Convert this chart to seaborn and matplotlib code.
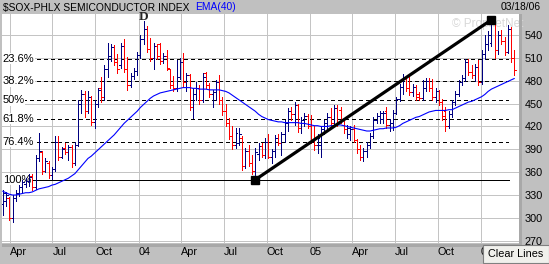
import matplotlib
matplotlib.use("Agg")
import matplotlib.pyplot as plt
import matplotlib.dates as mdates
import matplotlib.patches as mpatches
import matplotlib.transforms as mtransforms
import numpy as np
import pandas as pd
import seaborn as sns

# ---------------- data (weekly OHLC, $SOX) ----------------
opens = [318, 322, 326, 300, 326, 333, 340, 344, 349, 355, 340, 378, 386, 362, 372, 356, 364, 400, 380, 392,
         386, 393, 372, 396, 450, 462, 440, 458, 426, 450, 470, 458, 495, 512, 524, 505, 500, 525, 496, 475,
         486, 493, 514, 535, 548, 522, 510, 525, 528, 506, 512, 495, 475, 470, 485, 505, 478, 487, 446, 462,
         470, 455, 490, 475, 462, 465, 478, 455, 440, 425, 408, 395, 398, 405, 368, 388, 372, 362, 384, 394,
         383, 400, 380, 388, 405, 398, 410, 424, 440, 436, 448, 418, 428, 434, 420, 402, 395, 395, 416, 424,
         432, 424, 444, 442, 428, 416, 410, 416, 402, 390, 380, 388, 396, 408, 428, 434, 430, 440, 422, 425,
         438, 456, 472, 484, 470, 465, 472, 462, 457, 470, 480, 470, 458, 466, 452, 440, 420, 436, 452, 462,
         478, 484, 505, 492, 488, 498, 478, 515, 528, 530, 555, 520, 540, 532, 518, 548, 510]
highs = [337, 334, 327, 330, 337, 343, 350, 352, 357, 358, 383, 411, 388, 378, 374, 367, 407, 407, 393, 398,
         396, 396, 399, 455, 468, 466, 466, 460, 455, 470, 485, 500, 530, 528, 527, 515, 530, 535, 511, 490,
         497, 518, 540, 558, 552, 536, 530, 528, 530, 516, 520, 496, 486, 507, 510, 517, 490, 489, 470, 478,
         475, 490, 492, 477, 468, 481, 488, 459, 450, 431, 420, 418, 418, 408, 392, 396, 383, 392, 398, 398,
         405, 410, 391, 409, 410, 413, 428, 444, 446, 452, 450, 432, 437, 436, 435, 420, 410, 420, 428, 437,
         444, 448, 448, 446, 431, 422, 420, 422, 404, 396, 392, 400, 412, 432, 437, 440, 440, 446, 430, 441,
         459, 476, 489, 486, 487, 476, 475, 465, 481, 483, 484, 482, 470, 468, 456, 446, 440, 455, 466, 481,
         488, 509, 508, 500, 502, 507, 520, 540, 545, 562, 557, 545, 546, 537, 553, 550, 520]
lows = [304, 315, 297, 295, 322, 329, 334, 340, 342, 336, 338, 375, 358, 360, 352, 351, 362, 376, 378, 384,
        376, 367, 370, 394, 437, 433, 438, 422, 418, 446, 452, 455, 485, 506, 500, 490, 497, 491, 468, 472,
        482, 488, 510, 528, 518, 506, 496, 508, 502, 503, 494, 470, 466, 466, 482, 472, 466, 442, 431, 455,
        450, 452, 470, 458, 446, 455, 450, 435, 420, 404, 391, 392, 396, 363, 366, 368, 358, 350, 376, 380,
        378, 378, 372, 380, 395, 382, 400, 414, 428, 422, 413, 412, 420, 418, 398, 389, 385, 380, 410, 418,
        420, 422, 420, 424, 412, 405, 402, 400, 385, 376, 374, 380, 392, 405, 424, 425, 424, 418, 414, 415,
        436, 454, 462, 466, 461, 460, 455, 455, 455, 466, 466, 455, 452, 448, 428, 414, 418, 432, 448, 460,
        474, 480, 488, 484, 480, 475, 476, 508, 520, 526, 510, 515, 528, 514, 516, 505, 488]
closes = [332, 330, 300, 326, 333, 341, 347, 349, 353, 340, 378, 388, 362, 375, 356, 364, 400, 380, 390, 386,
          393, 372, 396, 450, 462, 440, 458, 426, 450, 468, 458, 495, 512, 524, 505, 495, 525, 496, 475, 486,
          493, 514, 535, 548, 522, 510, 525, 512, 506, 512, 497, 475, 470, 485, 505, 478, 487, 446, 462, 470,
          455, 485, 475, 462, 465, 478, 455, 440, 425, 408, 395, 412, 410, 368, 388, 372, 362, 386, 394, 383,
          400, 380, 388, 405, 398, 410, 424, 440, 436, 448, 418, 428, 434, 420, 402, 395, 405, 416, 424, 432,
          424, 444, 425, 428, 416, 418, 416, 402, 390, 380, 388, 396, 408, 428, 434, 437, 438, 422, 425, 438,
          456, 472, 484, 470, 465, 472, 458, 457, 470, 480, 470, 458, 466, 452, 434, 420, 436, 452, 462, 478,
          484, 505, 492, 488, 498, 478, 515, 528, 540, 555, 520, 540, 532, 518, 548, 510, 494]
ema40 = [335, 333, 331, 330, 330, 331, 332, 333, 333, 334, 336, 338, 339, 340, 341, 343, 344, 346, 348, 350,
         352, 355, 358, 363, 368, 373, 378, 381, 385, 389, 393, 397, 401, 405, 409, 414, 419, 424, 428, 432,
         436, 440, 445, 449, 453, 457, 460, 462, 464, 465, 466, 467, 468, 469, 470, 471, 471, 471, 470, 470,
         469, 469, 469, 468, 468, 468, 468, 467, 466, 464, 461, 458, 455, 452, 449, 446, 443, 440, 436, 433,
         431, 429, 428, 427, 426, 426, 425, 425, 425, 425, 425, 424, 424, 423, 422, 421, 421, 420, 420, 420,
         421, 421, 422, 422, 421, 420, 419, 418, 417, 416, 415, 414, 414, 415, 416, 417, 417, 418, 418, 418,
         419, 421, 424, 426, 428, 430, 432, 433, 435, 437, 439, 440, 441, 441, 441, 441, 442, 442, 444, 446,
         448, 450, 452, 453, 455, 457, 459, 462, 466, 469, 471, 473, 475, 477, 479, 481, 483]
first_week = "2003-03-17"
fib_labels = ["23.6%", "38.2%", "50%", "61.8%", "76.4%", "100%"]
fib_prices = [509, 479, 454.5, 430, 400, 350]
trend_idx = [77, 149]
trend_prices = [350, 560]
y_ticks = [270, 300, 330, 360, 390, 420, 450, 480, 510, 540]
x_tick_dates = ["2003-04-01", "2003-07-01", "2003-10-01", "2004-01-01", "2004-04-01", "2004-07-01",
                "2004-10-01", "2005-01-01", "2005-04-01", "2005-07-01", "2005-10-01", "2006-01-01"]
x_tick_labels = ["Apr", "Jul", "Oct", "04", "Apr", "Jul", "Oct", "05", "Apr", "Jul", "Oct", "06"]

# ---------------- figure ----------------
sns.set_style("white")
plt.rcParams["font.family"] = ["Liberation Sans", "DejaVu Sans"]

W, H = 549, 264
BG = "#C0C0C0"
ONE_PX = 0.72  # one pixel in points at 100 dpi
fig = plt.figure(figsize=(W / 100, H / 100), dpi=100, facecolor=BG)

def px(x0, y0, w, h):
    return [x0 / W, 1 - (y0 + h) / H, w / W, h / H]

ax = fig.add_axes(px(2, 14, 517, 229))
ax.set_facecolor("white")

dates = pd.date_range(first_week, periods=len(closes), freq="W-MON")
xd = mdates.date2num(dates.to_pydatetime())
start = mdates.date2num(pd.Timestamp(first_week).to_pydatetime())
ax.set_xlim(start - 1.5, start + 1101.9)
ax.set_ylim(267.0, 567.6)

# grid
ax.set_yticks(y_ticks)
xt = mdates.date2num(pd.to_datetime(x_tick_dates).to_pydatetime())
ax.set_xticks(xt)
ax.set_xticklabels(x_tick_labels)
for lbl in ax.get_xticklabels():
    lbl.set_ha("left")
ax.grid(True, color="#C4C4C4", lw=ONE_PX, antialiased=False)
ax.set_axisbelow(True)
ax.yaxis.tick_right()
ax.tick_params(axis="y", length=0, pad=4.0, labelsize=7.8, colors="black")
ax.tick_params(axis="x", length=0, pad=3.0, labelsize=7.8, colors="black")
for s in ax.spines.values():
    s.set_visible(False)

# fibonacci lines
for lab, p in zip(fib_labels, fib_prices):
    if lab == "100%":
        ax.axhline(p, xmin=0, xmax=0.9806, color="black", lw=ONE_PX, zorder=2, antialiased=False)
    else:
        ax.axhline(p, xmin=0, xmax=0.9787, color="black", lw=ONE_PX, ls=(0, (4, 3)), zorder=2,
                   antialiased=False)
    ax.text(0.0015, p, lab, transform=mtransforms.blended_transform_factory(ax.transAxes, ax.transData),
            ha="left", va="center", fontsize=8, color="black", zorder=3,
            bbox=dict(facecolor="white", edgecolor="none", pad=0.3))

# OHLC bars
o = np.array(opens); h = np.array(highs); l = np.array(lows); c = np.array(closes)
cols = np.where(c >= o, "#000080", "#FF0000")
tick = 4.0
ax.vlines(xd, l, h, colors=cols, lw=ONE_PX, zorder=4, antialiased=False)
ax.hlines(o, xd - tick, xd, colors=cols, lw=ONE_PX, zorder=4, antialiased=False)
ax.hlines(c, xd, xd + tick, colors=cols, lw=ONE_PX, zorder=4, antialiased=False)

# EMA(40)
sns.lineplot(x=xd, y=ema40, ax=ax, color="#0000FF", lw=0.8, zorder=5, legend=False)

# trend line with end squares
tx = xd[trend_idx]
ax.plot(tx, trend_prices, color="black", lw=2.3, zorder=6, solid_capstyle="butt")
ax.plot(tx, trend_prices, ls="none", marker="s", ms=6.0, color="black", zorder=7)

# D label
ax.annotate("D", xy=(xd[43], highs[43]), xytext=(0, 1.2), textcoords="offset points",
            ha="center", va="baseline", fontsize=9.5, fontweight="bold",
            family=["Liberation Serif", "DejaVu Serif"], annotation_clip=False, zorder=8)

# watermark
ax.text(0.871, 0.957, "\u00a9 ProphetNet", transform=ax.transAxes, ha="left", va="center",
        fontsize=8.5, color="#D8D8D8", zorder=3)

# frame decorations
fig.add_artist(mpatches.Rectangle((2 / W, 1 - 247 / H), 517 / W, 3 / H, transform=fig.transFigure,
                                  facecolor="#A8A8A8", edgecolor="none"))
fig.add_artist(mpatches.Rectangle((519 / W, 1 - 247 / H), 3 / W, 233 / H, transform=fig.transFigure,
                                  facecolor="#A8A8A8", edgecolor="none"))

# title bar texts
fig.text(3 / W, 1 - 7.5 / H, r"\$SOX-PHLX SEMICONDUCTOR INDEX", ha="left", va="center", fontsize=7.4, color="black")
fig.text(195 / W, 1 - 7.5 / H, "EMA(40)", ha="left", va="center", fontsize=7.4, color="#0000FF")
fig.text(541 / W, 1 - 7.5 / H, "03/18/06", ha="right", va="center", fontsize=7.4, color="black")

# Clear Lines button
fig.add_artist(mpatches.Rectangle((483 / W, 1 - 263 / H), 66 / W, 18 / H, transform=fig.transFigure,
                                  facecolor="#F0F0EC", edgecolor="#808080", lw=0.8, zorder=10))
fig.text(516 / W, 1 - 254 / H, "Clear Lines", ha="center", va="center", fontsize=7.8, color="black", zorder=11)

fig.savefig("out.png", dpi=100, facecolor=BG)
